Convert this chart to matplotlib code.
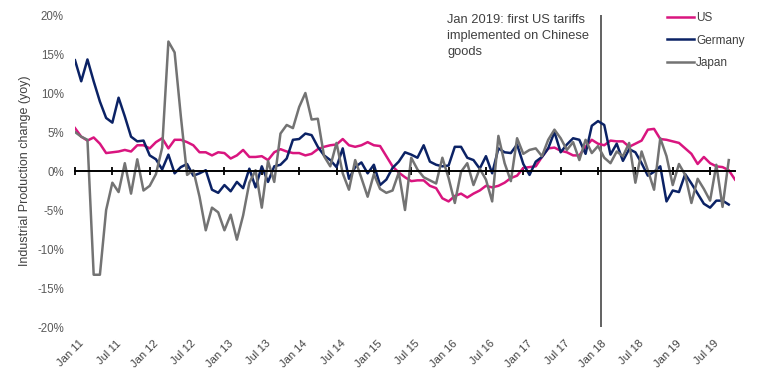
import matplotlib
matplotlib.use("Agg")
import matplotlib.pyplot as plt
import numpy as np
from matplotlib.transforms import blended_transform_factory, ScaledTranslation

plt.rcParams['font.family'] = ['Liberation Sans', 'DejaVu Sans']

# Monthly year-on-year industrial production change (%), from Jan 2011
us = [5.5, 4.4, 3.9, 4.3, 3.5, 2.3, 2.4, 2.5, 2.7, 2.5,
      3.3, 3.3, 2.9, 3.7, 4.2, 2.9, 4.0, 4.0, 3.7, 3.3,
      2.4, 2.4, 2.0, 2.4, 2.3, 1.6, 2.0, 2.7, 1.8, 1.8,
      1.9, 1.4, 2.4, 2.8, 2.5, 2.3, 2.3, 2.0, 2.2, 2.8,
      3.1, 3.3, 3.4, 4.1, 3.3, 3.1, 3.3, 3.7, 3.3, 3.2,
      1.9, 0.6, -0.2, -0.8, -1.3, -1.2, -1.2, -1.9, -2.2, -3.5,
      -3.9, -3.2, -2.9, -3.4, -2.9, -2.5, -1.9, -2.1, -1.9, -1.5,
      -0.9, -0.6, 0.4, 0.5, 0.6, 1.8, 2.9, 3.0, 2.6, 2.4,
      2.0, 2.0, 3.1, 4.0, 3.5, 3.3, 3.9, 3.8, 3.8, 3.1,
      3.5, 3.9, 5.3, 5.4, 4.1, 4.0, 3.8, 3.6, 2.9, 2.2,
      0.9, 1.8, 1.0, 0.6, 0.5, 0.1, -1.1]

germany = [14.2, 11.5, 14.3, 11.5, 8.9, 6.8, 6.2, 9.4, 7.0, 4.4,
           3.8, 3.9, 2.0, 1.5, 0.2, 2.1, -0.3, 0.5, 0.9, -0.6,
           -0.3, 0.1, -2.4, -2.8, -1.8, -2.6, -1.4, -2.2, 0.3, -2.1,
           0.6, -1.4, 0.6, 0.8, 1.6, 4.0, 4.1, 4.8, 4.6, 3.1,
           2.0, 1.4, 0.5, 2.9, -1.0, 0.5, 1.1, -0.3, 0.8, -1.8,
           -1.1, 0.4, 1.2, 2.4, 2.1, 1.7, 3.3, 1.2, 0.8, 0.6,
           0.7, 3.1, 3.1, 1.7, 1.4, 0.3, 1.9, -0.3, 2.9, 2.4,
           2.3, 3.4, 0.9, -0.5, 1.2, 1.8, 2.9, 5.0, 2.4, 3.4,
           4.2, 4.0, 2.2, 5.8, 6.4, 5.9, 2.1, 3.5, 1.3, 2.8,
           2.4, 1.0, -0.6, -0.1, 0.6, -3.9, -2.5, -2.7, -0.4, -1.6,
           -2.9, -4.2, -4.7, -3.8, -3.8, -4.3]

japan = [5.0, 4.4, 4.0, -13.3, -13.3, -5.0, -1.5, -2.7, 1.0, -2.9,
         1.5, -2.5, -1.9, -0.4, 3.0, 16.6, 15.2, 7.0, -0.5, 0.1,
         -3.3, -7.6, -4.7, -5.3, -7.6, -5.6, -8.8, -5.7, -1.5, 0.1,
         -4.7, 1.3, -1.4, 4.8, 5.9, 5.5, 8.2, 10.0, 6.6, 6.7,
         1.9, 0.6, 3.6, -0.3, -2.4, 1.4, -0.9, -3.3, -0.4, -2.3,
         -2.8, -2.5, -0.2, -5.0, 1.7, 0.2, -0.8, -1.2, -1.6, 1.7,
         -0.9, -4.1, -0.1, 1.0, -1.8, 0.3, -1.1, -3.9, 4.5, 1.0,
         -1.3, 4.2, 2.2, 2.7, 2.9, 1.9, 4.0, 5.3, 4.2, 2.7,
         3.7, 1.4, 4.0, 2.3, 3.2, 1.7, 1.0, 2.5, 1.9, 3.6,
         -1.5, 2.5, 0.1, -2.4, 4.2, 1.9, -1.8, 0.9, -0.5, -4.1,
         -1.0, -2.3, -3.8, 0.8, -4.6, 1.4]

tick_labels = ["Jan 11", "Jul 11", "Jan 12", "Jul 12", "Jan 13", "Jul 13",
               "Jan 14", "Jul 14", "Jan 15", "Jul 15", "Jan 16", "Jul 16",
               "Jan 17", "Jul 17", "Jan 18", "Jul 18", "Jan 19", "Jul 19"]
months_per_tick = 6
n_months = 106
event_label = "Jan 18"
annotation = "Jan 2019: first US tariffs\nimplemented on Chinese\ngoods"

c_us = '#D9157F'
c_de = '#0B2265'
c_jp = '#737373'
txt = '#404040'

W, H = 757, 378
fig = plt.figure(figsize=(W / 100, H / 100), dpi=100)
ax = fig.add_axes([75 / W, 1 - 327 / H, 660 / W, 312 / H])

ax.plot(np.arange(len(us)), us, color=c_us, lw=1.8, label='US', zorder=3)
ax.plot(np.arange(len(germany)), germany, color=c_de, lw=1.8, label='Germany', zorder=3)
ax.plot(np.arange(len(japan)), japan, color=c_jp, lw=1.8, label='Japan', zorder=3)

ax.set_xlim(0, n_months)
ax.set_ylim(-20, 20)

for s in ['top', 'right', 'left']:
    ax.spines[s].set_visible(False)
ax.spines['bottom'].set_position(('data', 0))
ax.spines['bottom'].set_color('black')
ax.spines['bottom'].set_linewidth(1.4)
ax.spines['bottom'].set_zorder(4)

tick_pos = [i * months_per_tick for i in range(len(tick_labels))]
ax.set_xticks(tick_pos)
ax.tick_params(axis='x', direction='inout', length=6, width=1.3, color='black',
               labelbottom=False)

yt = list(range(-20, 21, 5))
ax.set_yticks(yt)
ax.set_yticklabels([f"{v}%" for v in yt])
ax.tick_params(axis='y', length=0, pad=8, labelsize=8.3, labelcolor='#595959')

trans = blended_transform_factory(ax.transData, ax.transAxes) + \
    ScaledTranslation(7 / 100, -15 / 100, fig.dpi_scale_trans)
for p, lab in zip(tick_pos, tick_labels):
    ax.text(p, 0, lab, transform=trans, rotation=45, ha='right', va='center',
            rotation_mode='anchor', fontsize=8, color=txt)

event_x = tick_labels.index(event_label) * months_per_tick + 0.5
ax.axvline(event_x, color='#555555', lw=1.3, zorder=2)

fig.text(447 / W, 1 - 14 / H, annotation, ha='left', va='top', fontsize=9.3,
         color=txt, linespacing=1.45)

fig.text(25.5 / W, 1 - 171 / H, "Industrial Production change (yoy)", rotation=90,
         ha='center', va='center', fontsize=9, color=txt)

leg = ax.legend(loc='upper left', bbox_to_anchor=(667 / W, 1 - 12 / H),
                bbox_transform=fig.transFigure, frameon=False, fontsize=8.5,
                handlelength=2.3, handletextpad=0.15, labelspacing=0.9,
                borderpad=0, borderaxespad=0)
for t in leg.get_texts():
    t.set_color(txt)

fig.savefig("out.png", dpi=100)
